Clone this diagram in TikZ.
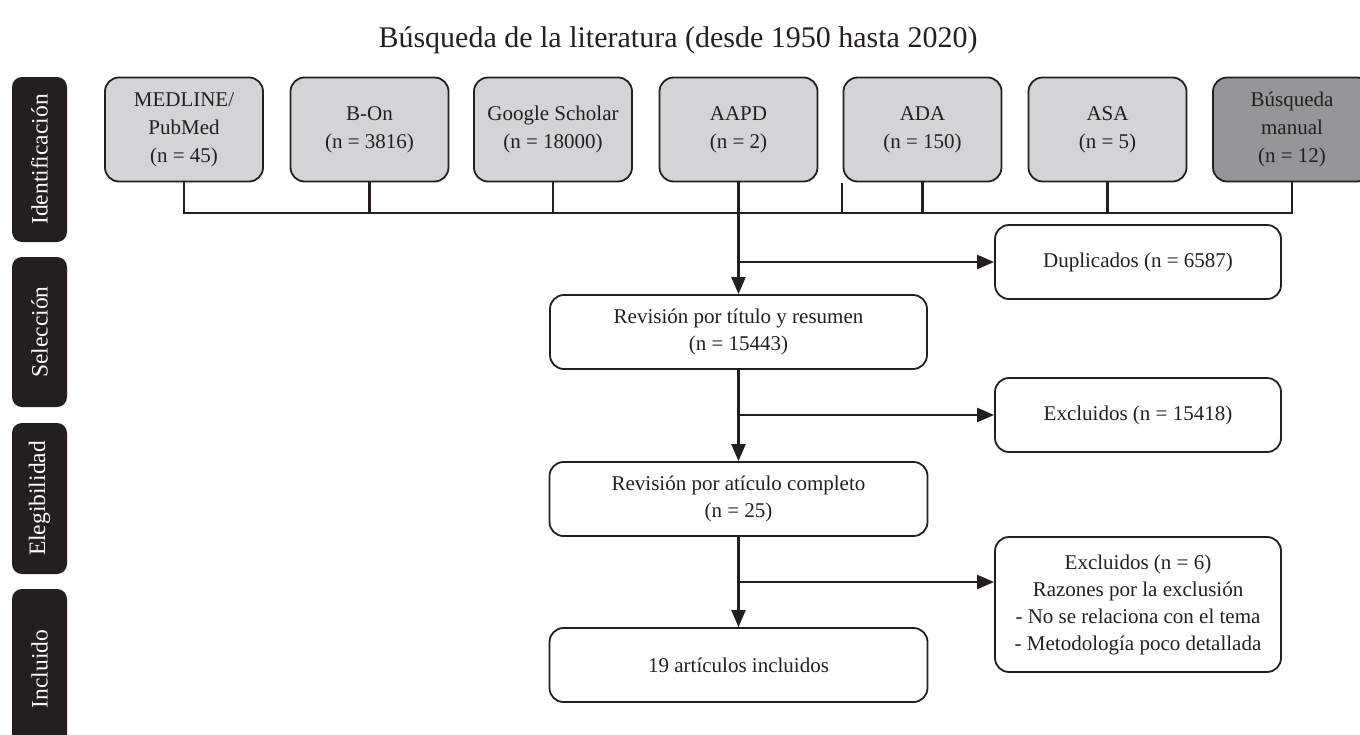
\documentclass[tikz,border=0pt]{standalone}
\usepackage{fontspec}
\setmainfont{Liberation Serif}
\usetikzlibrary{arrows.meta}
\definecolor{ink}{RGB}{35,31,32}
\definecolor{srcfill}{RGB}{211,212,214}
\definecolor{manfill}{RGB}{150,150,152}
\begin{document}
\begin{tikzpicture}[x=1pt,y=-1pt,
  src/.style={draw=ink,line width=1.8pt,fill=srcfill,rounded corners=14pt,minimum width=158pt,minimum height=104pt,inner sep=0pt,align=center,font=\fontsize{21}{28}\selectfont,text=ink},
  flow/.style={draw=ink,line width=1.8pt,rounded corners=14pt,inner sep=0pt,align=center,font=\fontsize{21}{27}\selectfont,text=ink},
  phase/.style={fill=ink,rounded corners=10pt,minimum height=55pt,inner sep=0pt,text=white,font=\fontsize{23.5}{26}\selectfont,rotate=90},
  conn/.style={draw=ink,line width=2.4pt},
  arr/.style={conn,-{Triangle[length=17pt,width=14pt]}}]
\useasboundingbox (0,0) rectangle (1360,734);
\clip (0,0) rectangle (1360,734);

% title
\node[font=\fontsize{30}{34}\selectfont,text=ink] (title) at (678,40) {Búsqueda de la literatura (desde 1950 hasta 2020)};

% phase labels
\node[phase,minimum width=165pt] (ph1) at (39.5,159.5) {Identificación};
\node[phase,minimum width=150pt] (ph2) at (39.5,332) {Selección};
\node[phase,minimum width=151pt] (ph3) at (39.5,498.5) {Elegibilidad};
\node[phase,minimum width=160pt] (ph4) at (39.5,669) {Incluido};

% sources
\node[src] (med) at (184,129.5) {MEDLINE/\\PubMed\\(n = 45)};
\node[src] (bon) at (369.5,129.5) {B-On\\(n = 3816)};
\node[src] (goo) at (553,129.5) {Google Scholar\\(n = 18000)};
\node[src] (aapd) at (738.5,129.5) {AAPD\\(n = 2)};
\node[src] (ada) at (922.5,129.5) {ADA\\(n = 150)};
\node[src] (asa) at (1107.5,129.5) {ASA\\(n = 5)};
\node[src,fill=manfill] (man) at (1292,129.5) {Búsqueda\\manual\\(n = 12)};

% flow boxes
\node[flow,minimum width=377pt,minimum height=74pt] (rev1) at (738.5,332) {Revisión por título y resumen\\(n = 15443)};
\node[flow,minimum width=378pt,minimum height=74pt] (rev2) at (738.5,499) {Revisión por atículo completo\\(n = 25)};
\node[flow,minimum width=378pt,minimum height=74pt] (inc) at (738.5,665) {19 artículos incluidos};
\node[flow,minimum width=286pt,minimum height=74pt] (dup) at (1138,262) {Duplicados (n = 6587)};
\node[flow,minimum width=286pt,minimum height=74pt] (exc1) at (1138,415) {Excluidos (n = 15418)};
\node[flow,minimum width=286pt,minimum height=135pt] (exc2) at (1138,604.5) {Excluidos (n = 6)\\Razones por la exclusión\\- No se relaciona con el tema\\- Metodología poco detallada};

% bus
\coordinate (bus) at (184,213);
\coordinate (tick) at (842,183);
\draw[conn] (med.south) -- (med.south |- bus) -- (man.south |- bus) -- (man.south);
\draw[conn] (bon.south) -- (bon.south |- bus);
\draw[conn] (goo.south) -- (goo.south |- bus);
\draw[conn] (ada.south) -- (ada.south |- bus);
\draw[conn] (asa.south) -- (asa.south |- bus);
\draw[conn] (tick) -- (tick |- bus);

% main flow
\draw[arr] (aapd.south) -- (rev1.north);
\draw[arr] (rev1.south) -- (rev2.north);
\draw[arr] (rev2.south) -- (inc.north);

% branches
\coordinate (j1) at (rev1.north |- dup.west);
\coordinate (j2) at (rev1.south |- exc1.west);
\coordinate (j3) at (738.5,582);
\draw[arr] (j1) -- (dup.west);
\draw[arr] (j2) -- (exc1.west);
\draw[arr] (j3) -- (j3 -| exc2.west);
\end{tikzpicture}
\end{document}
